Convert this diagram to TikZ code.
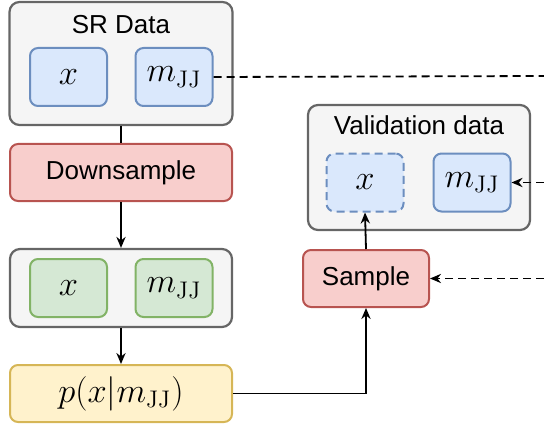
\documentclass[tikz,border=0pt]{standalone}
\usepackage[no-math]{fontspec}
\setmainfont{Liberation Sans}
\usetikzlibrary{arrows.meta}
\definecolor{grayfill}{HTML}{F5F5F5}
\definecolor{graydraw}{HTML}{666666}
\definecolor{bluefill}{HTML}{DAE8FC}
\definecolor{bluedraw}{HTML}{6C8EBF}
\definecolor{greenfill}{HTML}{D5E8D4}
\definecolor{greendraw}{HTML}{82B366}
\definecolor{redfill}{HTML}{F8CECC}
\definecolor{reddraw}{HTML}{B85450}
\definecolor{yellowfill}{HTML}{FFF2CC}
\definecolor{yellowdraw}{HTML}{D6B656}
\begin{document}
\begin{tikzpicture}[x=0.5pt,y=-0.5pt,>={Stealth[length=5.5pt,width=4.6pt]},
    txt/.style={font=\fontsize{13}{16}\selectfont},
    mth/.style={font=\fontsize{17}{20}\selectfont},
    group/.style={draw=graydraw,fill=grayfill,line width=1.1pt,rounded corners=5pt,inner sep=0pt},
    var/.style={draw=bluedraw,fill=bluefill,line width=1pt,rounded corners=4pt,
      minimum width=38.5pt,minimum height=29pt,inner sep=0pt,mth},
    gvar/.style={var,draw=greendraw,fill=greenfill},
    redbox/.style={draw=reddraw,fill=redfill,line width=1pt,rounded corners=4pt,inner sep=0pt,txt},
    dashline/.style={dash pattern=on 4pt off 2.5pt,line width=0.9pt},
    link/.style={line width=0.9pt}]
  \useasboundingbox (0,0) rectangle (544,427);
  % SR data
  \node[group,minimum width=111.5pt,minimum height=61.5pt] (sr) at (121,63.5) {};
  \node[txt] (srtitle) at (121,25) {SR Data};
  \node[var] (srx) at (68.5,77) {$x$};
  \node[var] (srm) at (174,77) {$m_{\mathrm{JJ}}$};
  % downsample
  \node[redbox,minimum width=111pt,minimum height=28.5pt] (down) at (121,172.5) {Downsample};
  % downsampled data
  \node[group,minimum width=111pt,minimum height=39pt] (ds) at (121,288) {};
  \node[gvar] (dsx) at (68.5,288) {$x$};
  \node[gvar] (dsm) at (174,288) {$m_{\mathrm{JJ}}$};
  % density
  \node[draw=yellowdraw,fill=yellowfill,line width=1pt,rounded corners=4pt,inner sep=0pt,
    minimum width=111pt,minimum height=28.5pt,mth] (dens) at (121,393.5) {$p(x|m_{\mathrm{JJ}})$};
  % validation data
  \node[group,minimum width=111pt,minimum height=62.5pt] (val) at (419,167.5) {};
  \node[txt] (valtitle) at (419,125) {Validation data};
  \node[var,dashline,line width=1pt] (valx) at (365,182.5) {$x$};
  \node[var] (valm) at (472,182.5) {$m_{\mathrm{JJ}}$};
  \node[redbox,minimum width=63pt,minimum height=28.5pt] (samp) at (366,278.5) {Sample};
  % free ends on the right
  \coordinate (e1) at (544,76);
  \coordinate (e2) at (544,182.5);
  \coordinate (e3) at (544,278.5);
  % connectors
  \draw[link] (sr.south) -- (down.north);
  \draw[link,->] (down.south) -- (ds.north);
  \draw[link,->] (ds.south) -- (dens.north);
  \draw[link,->] (dens.east) -| (samp.south);
  \draw[link,->] (samp.north) -- (valx.south);
  \draw[dashline] (srm.east) -- (e1);
  \draw[dashline,->] (e2) -- (valm.east);
  \draw[dashline,->] (e3) -- (samp.east);
\end{tikzpicture}
\end{document}
